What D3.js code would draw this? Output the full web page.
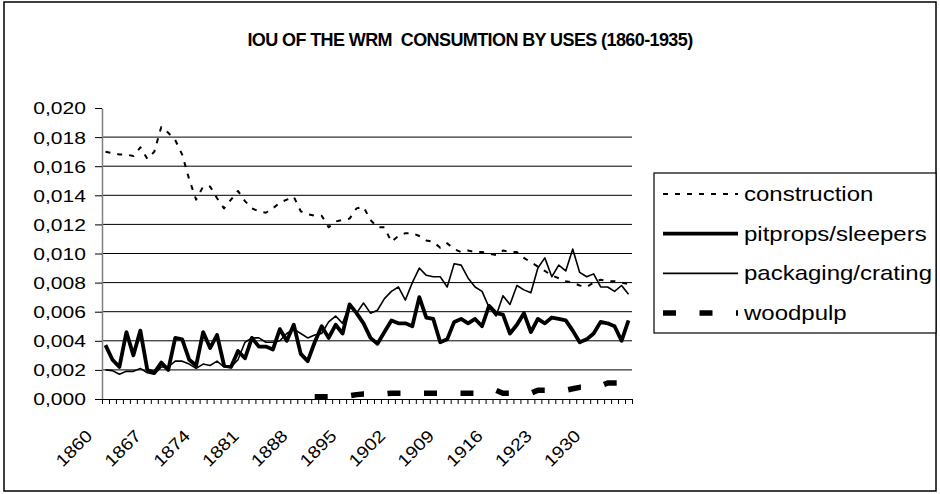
<!DOCTYPE html>
<html><head><meta charset="utf-8">
<script src="https://cdn.jsdelivr.net/npm/d3@7"></script>
<style>body{margin:0;background:#fff}</style></head><body>
<script>
const years = [1860,1861,1862,1863,1864,1865,1866,1867,1868,1869,1870,1871,1872,1873,1874,1875,1876,1877,1878,1879,
1880,1881,1882,1883,1884,1885,1886,1887,1888,1889,1890,1891,1892,1893,1894,1895,1896,1897,1898,1899,
1900,1901,1902,1903,1904,1905,1906,1907,1908,1909,1910,1911,1912,1913,1914,1915,1916,1917,1918,1919,
1920,1921,1922,1923,1924,1925,1926,1927,1928,1929,1930,1931,1932,1933,1934,1935];
const labelYears = [1860,1867,1874,1881,1888,1895,1902,1909,1916,1923,1930];
const yTicks = [0,0.002,0.004,0.006,0.008,0.010,0.012,0.014,0.016,0.018,0.020];

const construction = [0.0170,0.0169,0.0168,0.0168,0.0167,0.0173,0.0165,0.0170,0.0187,0.0183,
0.0178,0.0168,0.0151,0.0137,0.0146,0.0146,0.0138,0.0131,0.0137,0.0143,
0.0136,0.0131,0.0129,0.0128,0.0131,0.0135,0.0137,0.0139,0.0129,0.0127,
0.0126,0.0126,0.0118,0.0122,0.0123,0.0124,0.0131,0.0132,0.0123,0.0118,
0.0118,0.0108,0.0112,0.0114,0.0114,0.0112,0.0109,0.0108,0.0104,0.0107,
0.0103,0.0101,0.0102,0.0101,0.0101,0.0100,0.0099,0.0102,0.0101,0.0101,
0.0097,0.0094,0.0091,0.0088,0.0085,0.0083,0.0081,0.0080,0.0078,0.0077,
0.0080,0.0082,0.0081,0.0081,0.0080,0.0079];
const pitprops = [0.0037,0.0027,0.0022,0.0046,0.0030,0.0047,0.0020,0.0018,0.0025,0.0020,
0.0042,0.0041,0.0027,0.0023,0.0046,0.0035,0.0044,0.0023,0.0022,0.0033,
0.0028,0.0042,0.0036,0.0036,0.0034,0.0048,0.0040,0.0051,0.0031,0.0026,
0.0039,0.0050,0.0042,0.0051,0.0045,0.0065,0.0059,0.0052,0.0042,0.0038,
0.0046,0.0054,0.0052,0.0052,0.0050,0.0070,0.0056,0.0055,0.0039,0.0041,
0.0053,0.0055,0.0052,0.0055,0.0050,0.0064,0.0059,0.0058,0.0045,0.0051,
0.0059,0.0046,0.0055,0.0052,0.0056,0.0055,0.0054,0.0047,0.0039,0.0041,
0.0045,0.0053,0.0052,0.0050,0.0040,0.0054];
const packaging = [0.0020,0.00195,0.0017,0.0019,0.0019,0.0021,0.0018,0.0017,0.0022,0.0022,
0.0026,0.0026,0.0024,0.0021,0.0024,0.0023,0.0026,0.0022,0.0022,0.0027,
0.0039,0.0042,0.0042,0.0039,0.0039,0.0040,0.0045,0.0048,0.0045,0.0042,
0.0044,0.0045,0.0053,0.0057,0.0052,0.0065,0.0059,0.0066,0.0059,0.0061,
0.0069,0.0074,0.0077,0.0068,0.0080,0.0090,0.0085,0.0084,0.0084,0.0077,
0.0093,0.0092,0.0083,0.0077,0.0074,0.0063,0.0057,0.0071,0.0065,0.0078,
0.0075,0.0073,0.0090,0.0097,0.0084,0.0092,0.0088,0.0103,0.0087,0.0084,
0.0086,0.0077,0.0077,0.0074,0.0078,0.0072];
const woodpulp = [null,null,null,null,null,null,null,null,null,null,
null,null,null,null,null,null,null,null,null,null,
null,null,null,null,null,null,null,null,null,null,
0.00015,0.00015,0.00015,0.0002,0.0002,0.00022,0.0003,0.00035,0.00035,0.00035,
0.00035,0.0004,0.0004,0.0004,0.0004,0.0004,0.0004,0.0004,0.0004,0.0004,
0.0004,0.0004,0.0004,0.0004,0.0004,0.0004,0.0006,0.0004,0.0004,0.0004,
0.0004,0.0004,0.0006,0.0006,0.0006,0.0006,0.0006,0.0007,0.0008,0.0008,
0.0008,0.0009,0.0011,0.0011,0.0011,0.0011];

const seriesNames = ["construction","pitprops/sleepers","packaging/crating","woodpulp"];
const seriesData = [construction, pitprops, packaging, woodpulp];
const seriesStyle = [
  {w:2, dash:"5,7"},
  {w:3.8, dash:null},
  {w:1.6, dash:null},
  {w:5.5, dash:"13,23.5"}
];

const W=940,H=494, L=102, R=632, T=108, B=399, SX=1.24;
const svg = d3.select("body").append("svg").attr("width",W).attr("height",H)
  .style("font-family","Arial, 'Liberation Sans', sans-serif");
svg.append("rect").attr("width",W).attr("height",H).attr("fill","#fff");
svg.append("rect").attr("x",4).attr("y",2).attr("width",932).attr("height",489)
  .attr("fill","none").attr("stroke","#000").attr("stroke-width",1.5);

// title
svg.append("text").attr("x",470).attr("y",46).attr("text-anchor","middle")
  .attr("font-weight","bold").attr("font-size",18).attr("letter-spacing",-0.6)
  .style("white-space","pre")
  .text("IOU OF THE WRM  CONSUMTION BY USES (1860-1935)");

const x = d3.scalePoint().domain(years).range([L,R]).padding(0.5);
const xb = d3.scaleLinear().domain([0,years.length]).range([L,R]);
const y = d3.scaleLinear().domain([0,0.02]).range([B,T]);

// gridlines
svg.append("g").selectAll("line").data(yTicks.filter(d=>d>0 && d<0.02)).join("line")
  .attr("x1",L).attr("x2",R).attr("y1",d=>y(d)).attr("y2",d=>y(d))
  .attr("stroke","#000").attr("stroke-width",1);

// y axis
const ya = svg.append("g").attr("transform",`translate(${L},0)`)
  .call(d3.axisLeft(y).tickValues(yTicks).tickSize(7).tickSizeOuter(0)
    .tickFormat(d=>d.toFixed(3).replace(".",",")));
ya.select(".domain").attr("stroke","#808080").attr("stroke-width",1.5);
ya.selectAll(".tick line").attr("stroke","#000");
ya.selectAll(".tick text").attr("x",0).attr("dy","0.35em")
  .attr("transform",`translate(-16,0) scale(${SX},1)`)
  .attr("font-size",17).attr("fill","#000").attr("font-family","Arial, 'Liberation Sans', sans-serif");

// x axis
const xa = svg.append("g").attr("transform",`translate(0,${B})`)
  .call(d3.axisBottom(xb).tickValues(d3.range(years.length+1)).tickSize(5).tickSizeOuter(0).tickFormat(""));
xa.select(".domain").attr("stroke","#000").attr("stroke-width",1.2);
xa.selectAll(".tick line").attr("stroke","#000");

svg.append("g").selectAll("g").data(labelYears).join("g")
  .attr("transform",d=>`translate(${x(d)-12},437) rotate(-45) scale(1.15,1)`)
  .append("text").attr("text-anchor","end").attr("font-size",17).attr("fill","#000").text(d=>d);

// lines
const order = [2,0,1,3];
order.forEach(k=>{
  const line = d3.line().defined(d=>d!=null).x((d,i)=>x(years[i])).y(d=>y(d));
  svg.append("path").datum(seriesData[k]).attr("d",line)
    .attr("fill","none").attr("stroke","#000").attr("stroke-width",seriesStyle[k].w)
    .attr("stroke-linejoin","round")
    .attr("stroke-dasharray",seriesStyle[k].dash);
});

// legend
const lg = svg.append("g");
lg.append("rect").attr("x",654).attr("y",173).attr("width",282).attr("height",160)
  .attr("fill","#fff").attr("stroke","#000").attr("stroke-width",1.2);
const ly = d3.scalePoint().domain(seriesNames).range([194,313]);
seriesNames.forEach((n,k)=>{
  lg.append("line").attr("x1",663).attr("x2",738).attr("y1",ly(n)).attr("y2",ly(n))
    .attr("stroke","#000").attr("stroke-width",seriesStyle[k].w).attr("stroke-dasharray",seriesStyle[k].dash);
  lg.append("g").attr("transform",`translate(744,${ly(n)}) scale(1.2,1)`)
    .append("text").attr("dy","0.35em").attr("font-size",20).attr("fill","#000").text(n);
});
</script>
</body></html>
